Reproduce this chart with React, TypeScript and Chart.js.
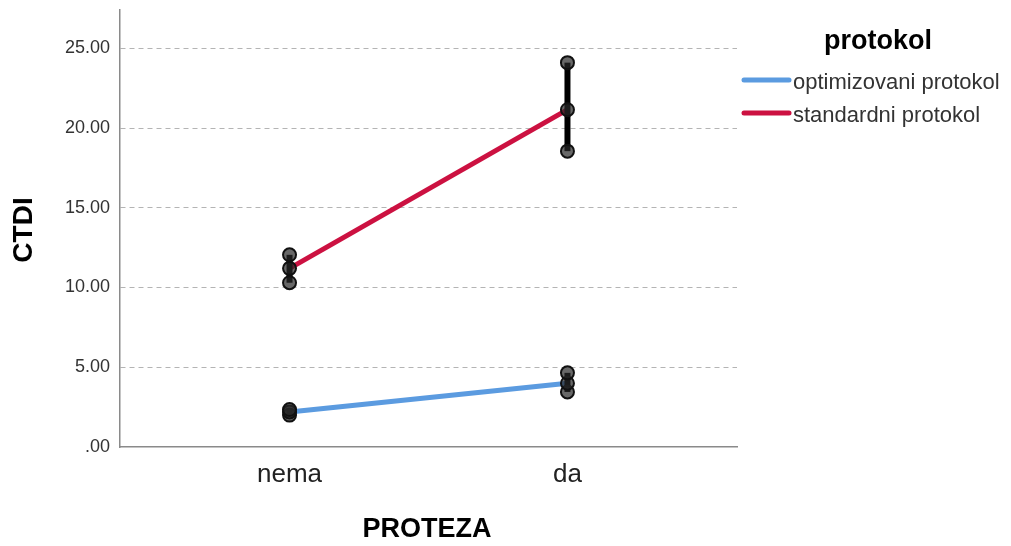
import React, { useEffect, useRef } from "react";
import { Chart, registerables } from "chart.js";

Chart.register(...registerables);

// Categories on the horizontal axis
const categories = ["nema", "da"];

// Series names
const seriesNames = ["optimizovani protokol", "standardni protokol"];
const seriesColors = ["#5b9be0", "#cc1141"];

// Means and error-bar bounds per category
const optMean = [2.2, 4.0];
const optLow = [2.0, 3.45];
const optHigh = [2.35, 4.65];

const stdMean = [11.2, 21.15];
const stdLow = [10.3, 18.55];
const stdHigh = [12.05, 24.1];

// Y axis ticks
const yTicks = [0, 5, 10, 15, 20, 25];
const yMax = 27.4;

const FONT = "'Liberation Sans', Arial, sans-serif";

const titlesAndLegend = {
  id: "titlesAndLegend",
  afterDraw(chart: any) {
    const { ctx, chartArea } = chart;
    ctx.save();
    ctx.fillStyle = "#000";
    ctx.textAlign = "center";
    ctx.textBaseline = "middle";
    // Axis titles
    ctx.font = `bold 27px ${FONT}`;
    ctx.fillText("PROTEZA", 427, 530);
    ctx.save();
    ctx.translate(24, 230);
    ctx.rotate(-Math.PI / 2);
    ctx.font = `bold 28px ${FONT}`;
    ctx.fillText("CTDI", 0, 0);
    ctx.restore();

    // Legend
    ctx.font = `bold 27px ${FONT}`;
    ctx.fillText("protokol", 878, 42);
    ctx.textAlign = "left";
    ctx.font = `22px ${FONT}`;
    seriesNames.forEach((name, i) => {
      const y = 80 + i * 33;
      ctx.strokeStyle = seriesColors[i];
      ctx.lineWidth = 5;
      ctx.lineCap = "round";
      ctx.beginPath();
      ctx.moveTo(744, y);
      ctx.lineTo(789, y);
      ctx.stroke();
      ctx.fillStyle = "#333";
      ctx.fillText(name, 793, y + 3);
    });
    ctx.restore();
  },
};

function meanLine(label: string, means: number[], color: string) {
  return {
    type: "line" as const,
    label,
    data: means.map((y, i) => ({ x: i, y })),
    borderColor: color,
    borderWidth: 5,
    pointRadius: 0,
    order: 3,
  };
}

function errorBars(low: number[], high: number[]) {
  return low.map((lo, i) => ({
    type: "line" as const,
    label: "",
    data: [
      { x: i, y: lo },
      { x: i, y: high[i] },
    ],
    borderColor: "#000",
    borderWidth: 6,
    pointRadius: 0,
    order: 2,
  }));
}

function markers(means: number[], low: number[], high: number[]) {
  const pts: { x: number; y: number }[] = [];
  means.forEach((m, i) => {
    pts.push({ x: i, y: low[i] }, { x: i, y: m }, { x: i, y: high[i] });
  });
  return {
    type: "scatter" as const,
    label: "",
    data: pts,
    pointRadius: 6.5,
    pointBackgroundColor: "rgba(40,40,40,0.7)",
    pointBorderColor: "#111",
    pointBorderWidth: 2,
    order: 1,
  };
}

export default function App() {
  const canvasRef = useRef<HTMLCanvasElement | null>(null);

  useEffect(() => {
    if (!canvasRef.current) return;
    const chart = new Chart(canvasRef.current, {
      type: "line",
      data: {
        datasets: [
          meanLine(seriesNames[0], optMean, seriesColors[0]),
          meanLine(seriesNames[1], stdMean, seriesColors[1]),
          ...errorBars(optLow, optHigh),
          ...errorBars(stdLow, stdHigh),
          markers(optMean, optLow, optHigh),
          markers(stdMean, stdLow, stdHigh),
        ] as any,
      },
      options: {
        animation: false,
        responsive: false,
        maintainAspectRatio: false,
        layout: { padding: { left: 0, right: 1011 - 737, top: 0, bottom: 0 } },
        plugins: {
          legend: { display: false },
          tooltip: { enabled: false },
        },
        scales: {
          x: {
            type: "linear",
            min: -0.61,
            max: 1.61,
            afterBuildTicks: (scale: any) => {
              scale.ticks = categories.map((_, i) => ({ value: i }));
            },
            afterFit: (scale: any) => {
              scale.height = 546 - 447;
            },
            ticks: {
              callback: (v: any) => categories[v] ?? "",
              font: { family: FONT, size: 26 },
              color: "#222",
              padding: 12,
              autoSkip: false,
              maxRotation: 0,
            },
            grid: { color: "rgba(0,0,0,0)", drawTicks: false },
            border: { display: true, color: "#8a8a8a", width: 1.5 },
          },
          y: {
            type: "linear",
            min: 0,
            max: yMax,
            afterBuildTicks: (scale: any) => {
              scale.ticks = yTicks.map((v) => ({ value: v }));
            },
            afterFit: (scale: any) => {
              scale.width = 120;
              scale.paddingTop = 10;
            },
            ticks: {
              callback: (v: any) => (v === 0 ? ".00" : Number(v).toFixed(2)),
              font: { family: FONT, size: 18 },
              color: "#333",
              padding: 10,
            },
            grid: {
              color: (ctx: any) =>
                ctx.tick && ctx.tick.value === 0 ? "rgba(0,0,0,0)" : "#b4b4b4",
              lineWidth: 1,
              drawTicks: false,
            },
            border: { display: true, color: "#8a8a8a", width: 1.5, dash: [5, 4] },
          },
        },
      },
      plugins: [titlesAndLegend],
    });
    return () => chart.destroy();
  }, []);

  return (
    <div
      style={{
        position: "fixed",
        left: 0,
        top: 0,
        width: 1011,
        height: 546,
        background: "#fff",
      }}
    >
      <canvas ref={canvasRef} width={1011} height={546} />
    </div>
  );
}
